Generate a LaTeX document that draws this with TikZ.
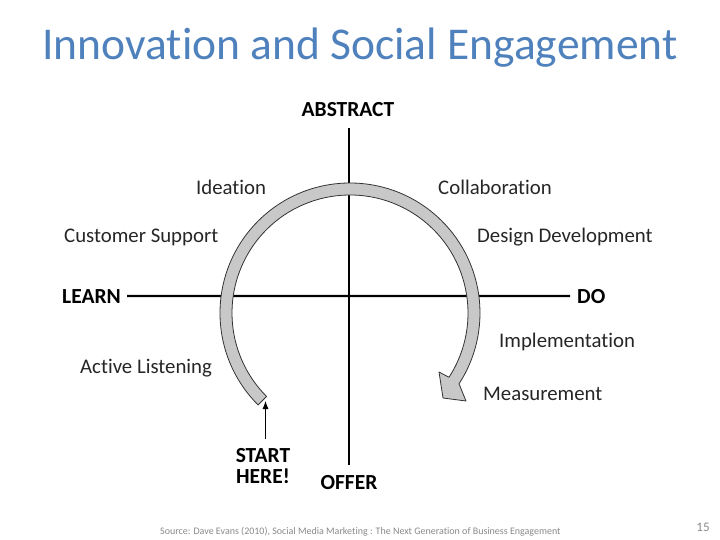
\documentclass[tikz,border=0pt]{standalone}
\usepackage{fontspec}
\setmainfont[Ligatures=NoCommon]{Carlito}
\usetikzlibrary{arrows.meta}
\definecolor{titleblue}{RGB}{79,129,189}
\definecolor{bandgray}{RGB}{200,200,200}
\definecolor{srcgray}{RGB}{137,137,137}
\begin{document}
\begin{tikzpicture}[x=1pt,y=-1pt,
  lbl/.style={font=\fontsize{20.8}{24}\selectfont, text=black!85, inner sep=0pt, anchor=base west},
  axlbl/.style={font=\fontsize{21.5}{24}\selectfont\bfseries, text=black, inner sep=0pt},
  axis/.style={line width=2.4pt, black},
  band/.style={draw=black!80, line width=0.8pt, fill=bandgray, line join=round}]
\useasboundingbox (0,0) rectangle (720,540);
\node[font=\fontsize{45.5}{50}\selectfont, text=titleblue] (title) at (360,48) {Innovation and Social Engagement};
% axis labels
\node[axlbl] (abstract) at (348,110) {ABSTRACT};
\node[axlbl, anchor=base] (offer) at (349,489) {OFFER};
\node[axlbl, anchor=base west] (learn) at (62,303) {LEARN};
\node[axlbl, anchor=base west] (do) at (577,303) {DO};
% axes
\draw[axis] ([yshift=-11pt,xshift=1pt]abstract.south) -- ([yshift=10pt]offer.north);
\draw[axis] ([xshift=6pt]learn.east) -- ([xshift=-7pt]do.west);
% labels
\node[lbl] (ideation) at (196,195) {Ideation};
\node[lbl] (collab) at (438,195) {Collaboration};
\node[lbl] (custsup) at (64,243) {Customer Support};
\node[lbl] (design) at (477,243) {Design Development};
\node[lbl] (impl) at (499,347) {Implementation};
\node[lbl] (active) at (80,373) {Active Listening};
\node[lbl] (measure) at (483,400) {Measurement};
% cycle arrow
\begin{scope}[shift={(350,313)}, yscale=-1]
\path[band] (225:118) -- (225:130) arc[start angle=225, end angle=-33, radius=130]
  -- (116,-88) -- (93,-85) -- (89,-59) -- (-33:118)
  arc[start angle=-33, end angle=225, radius=118] -- cycle;
\end{scope}
% start here
\node[axlbl, anchor=base] (start) at (263,462) {START};
\node[axlbl, anchor=base] (here) at (263,483) {HERE!};
\coordinate (starttip) at (265.5,401);
\draw[-{Latex[length=8pt,width=6pt]}, line width=0.8pt] (starttip |- start.north) ++(0,-9) -- (starttip);
% footer
\node[font=\fontsize{10}{12}\selectfont, text=srcgray, anchor=west, inner sep=0pt] (src) at (160,532) {Source: Dave Evans (2010), Social Media Marketing : The Next Generation of Business Engagement};
\node[font=\fontsize{13}{15}\selectfont, text=srcgray, inner sep=0pt] (page) at (703,527) {15};
\end{tikzpicture}
\end{document}
